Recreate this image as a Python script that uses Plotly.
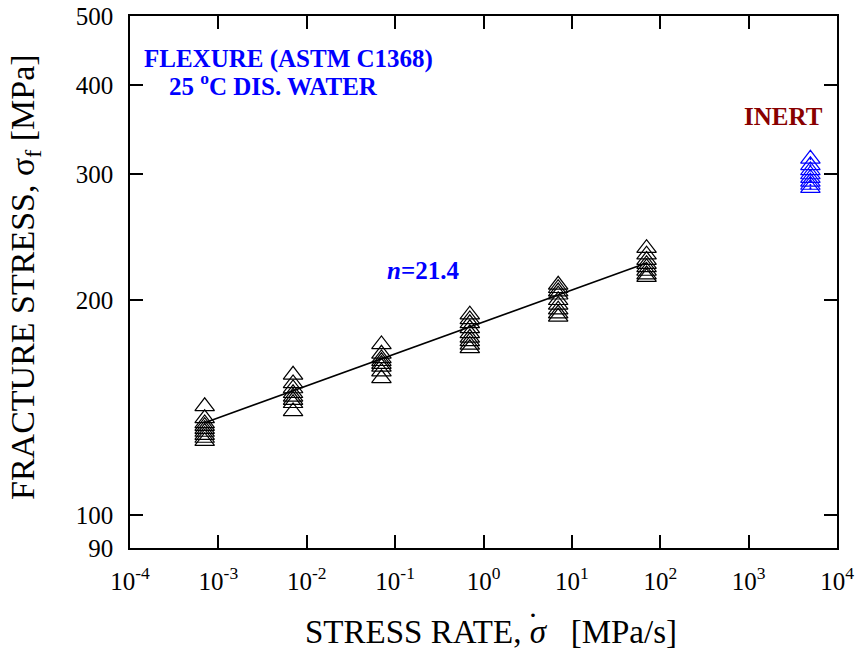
import plotly.graph_objects as go

# ---------------- data ----------------
rates = [7e-4, 7e-3, 7e-2, 0.7, 7.0, 70.0]
stress_7e4 = [142.1, 136.7, 134.5, 133.3, 132.0, 130.8, 129.5, 128.3, 127.0]
stress_7e3 = [157.3, 153.0, 150.5, 148.2, 146.5, 145.0, 143.5, 139.8]
stress_7e2 = [173.5, 168.3, 165.8, 164.3, 162.8, 161.4, 158.9, 155.5]
stress_7e1 = [190.9, 188.0, 185.7, 182.7, 179.8, 177.2, 175.2, 173.2, 171.3]
stress_7e0 = [210.2, 207.9, 205.7, 203.6, 200.0, 197.0, 194.0, 191.6, 189.6]
stress_70 = [236.6, 231.7, 227.7, 224.7, 222.3, 219.8, 217.3, 215.5]
inert_rate = 5000.0
stress_inert = [315.5, 309.0, 304.0, 300.0, 296.5, 293.0, 290.0, 287.0]
fit_rate = [7e-4, 70.0]
fit_stress = [134.8, 225.5]

x_tickvals = [1e-4, 1e-3, 1e-2, 1e-1, 1, 10, 100, 1000, 10000]
x_ticktext = ["10<sup>-4</sup>", "10<sup>-3</sup>", "10<sup>-2</sup>", "10<sup>-1</sup>",
              "10<sup>0</sup>", "10<sup>1</sup>", "10<sup>2</sup>", "10<sup>3</sup>", "10<sup>4</sup>"]
y_tickvals = [90, 100, 200, 300, 400, 500]
y_ticktext = ["90", "100", "200", "300", "400", "500"]

# ---------------- figure ----------------
FONT = "Liberation Serif, Times New Roman, serif"
W, H = 859, 653
L, R, T, B = 130, 22, 16, 105

fig = go.Figure()

fig.add_trace(go.Scatter(x=fit_rate, y=fit_stress, mode="lines",
                         line=dict(color="black", width=1.5), showlegend=False))

groups = [stress_7e4, stress_7e3, stress_7e2, stress_7e1, stress_7e0, stress_70]
xs, ys = [], []
for r, g in zip(rates, groups):
    xs += [r] * len(g)
    ys += g
fig.add_trace(go.Scatter(x=xs, y=ys, mode="markers",
                         marker=dict(symbol="triangle-up-open", size=17,
                                     color="black", line=dict(color="black", width=1.2)),
                         showlegend=False))

fig.add_trace(go.Scatter(x=[inert_rate] * len(stress_inert), y=stress_inert, mode="markers",
                         marker=dict(symbol="triangle-up-open-dot", size=17,
                                     color="#0000ff", line=dict(color="#0000ff", width=1.2)),
                         showlegend=False))

axis_common = dict(type="log", showline=True, linecolor="black", linewidth=1.5,
                   mirror="ticks", ticks="inside", ticklen=13, tickwidth=1.5,
                   tickcolor="black", showgrid=False, zeroline=False, automargin=False,
                   tickfont=dict(family=FONT, size=25, color="black"))

fig.update_xaxes(range=[-4, 4], tickmode="array", tickvals=x_tickvals,
                 ticktext=x_ticktext, ticklabelstandoff=10, **axis_common)
fig.update_yaxes(range=[1.954242509, 2.698970004], tickmode="array",
                 tickvals=y_tickvals, ticktext=y_ticktext, ticklabelstandoff=10,
                 **axis_common)

def px(x):
    return (x - L) / (W - L - R)

def py(y):
    return (H - B - y) / (H - T - B)

ann = [
    dict(text="<b>FLEXURE (ASTM C1368)</b>", x=px(288.5), y=py(59),
         font=dict(family=FONT, size=25, color="#0000ff")),
    dict(text="<b>25 <sup>o</sup>C DIS. WATER</b>", x=px(273), y=py(84),
         font=dict(family=FONT, size=25, color="#0000ff")),
    dict(text="<b><i>n</i>=21.4</b>", x=px(423), y=py(270),
         font=dict(family=FONT, size=25, color="#0000ff")),
    dict(text="<b>INERT</b>", x=px(783), y=py(116),
         font=dict(family=FONT, size=25, color="#880000")),
    dict(text="STRESS RATE, <i>σ</i>   [MPa/s]", x=px(491.5), y=py(632),
         font=dict(family=FONT, size=33, color="black")),
    dict(text="·", x=px(533), y=py(614),
         font=dict(family=FONT, size=30, color="black")),
    dict(text="FRACTURE STRESS, σ<sub>f</sub> [MPa]", x=px(25), y=py(277),
         textangle=-90, font=dict(family=FONT, size=34, color="black")),
]
for a in ann:
    a.update(xref="paper", yref="paper", showarrow=False,
             xanchor="center", yanchor="middle")
    fig.add_annotation(**a)

fig.update_layout(width=W, height=H, margin=dict(l=L, r=R, t=T, b=B),
                  paper_bgcolor="white", plot_bgcolor="white",
                  font=dict(family=FONT, color="black"))

fig.write_html("out.html")
